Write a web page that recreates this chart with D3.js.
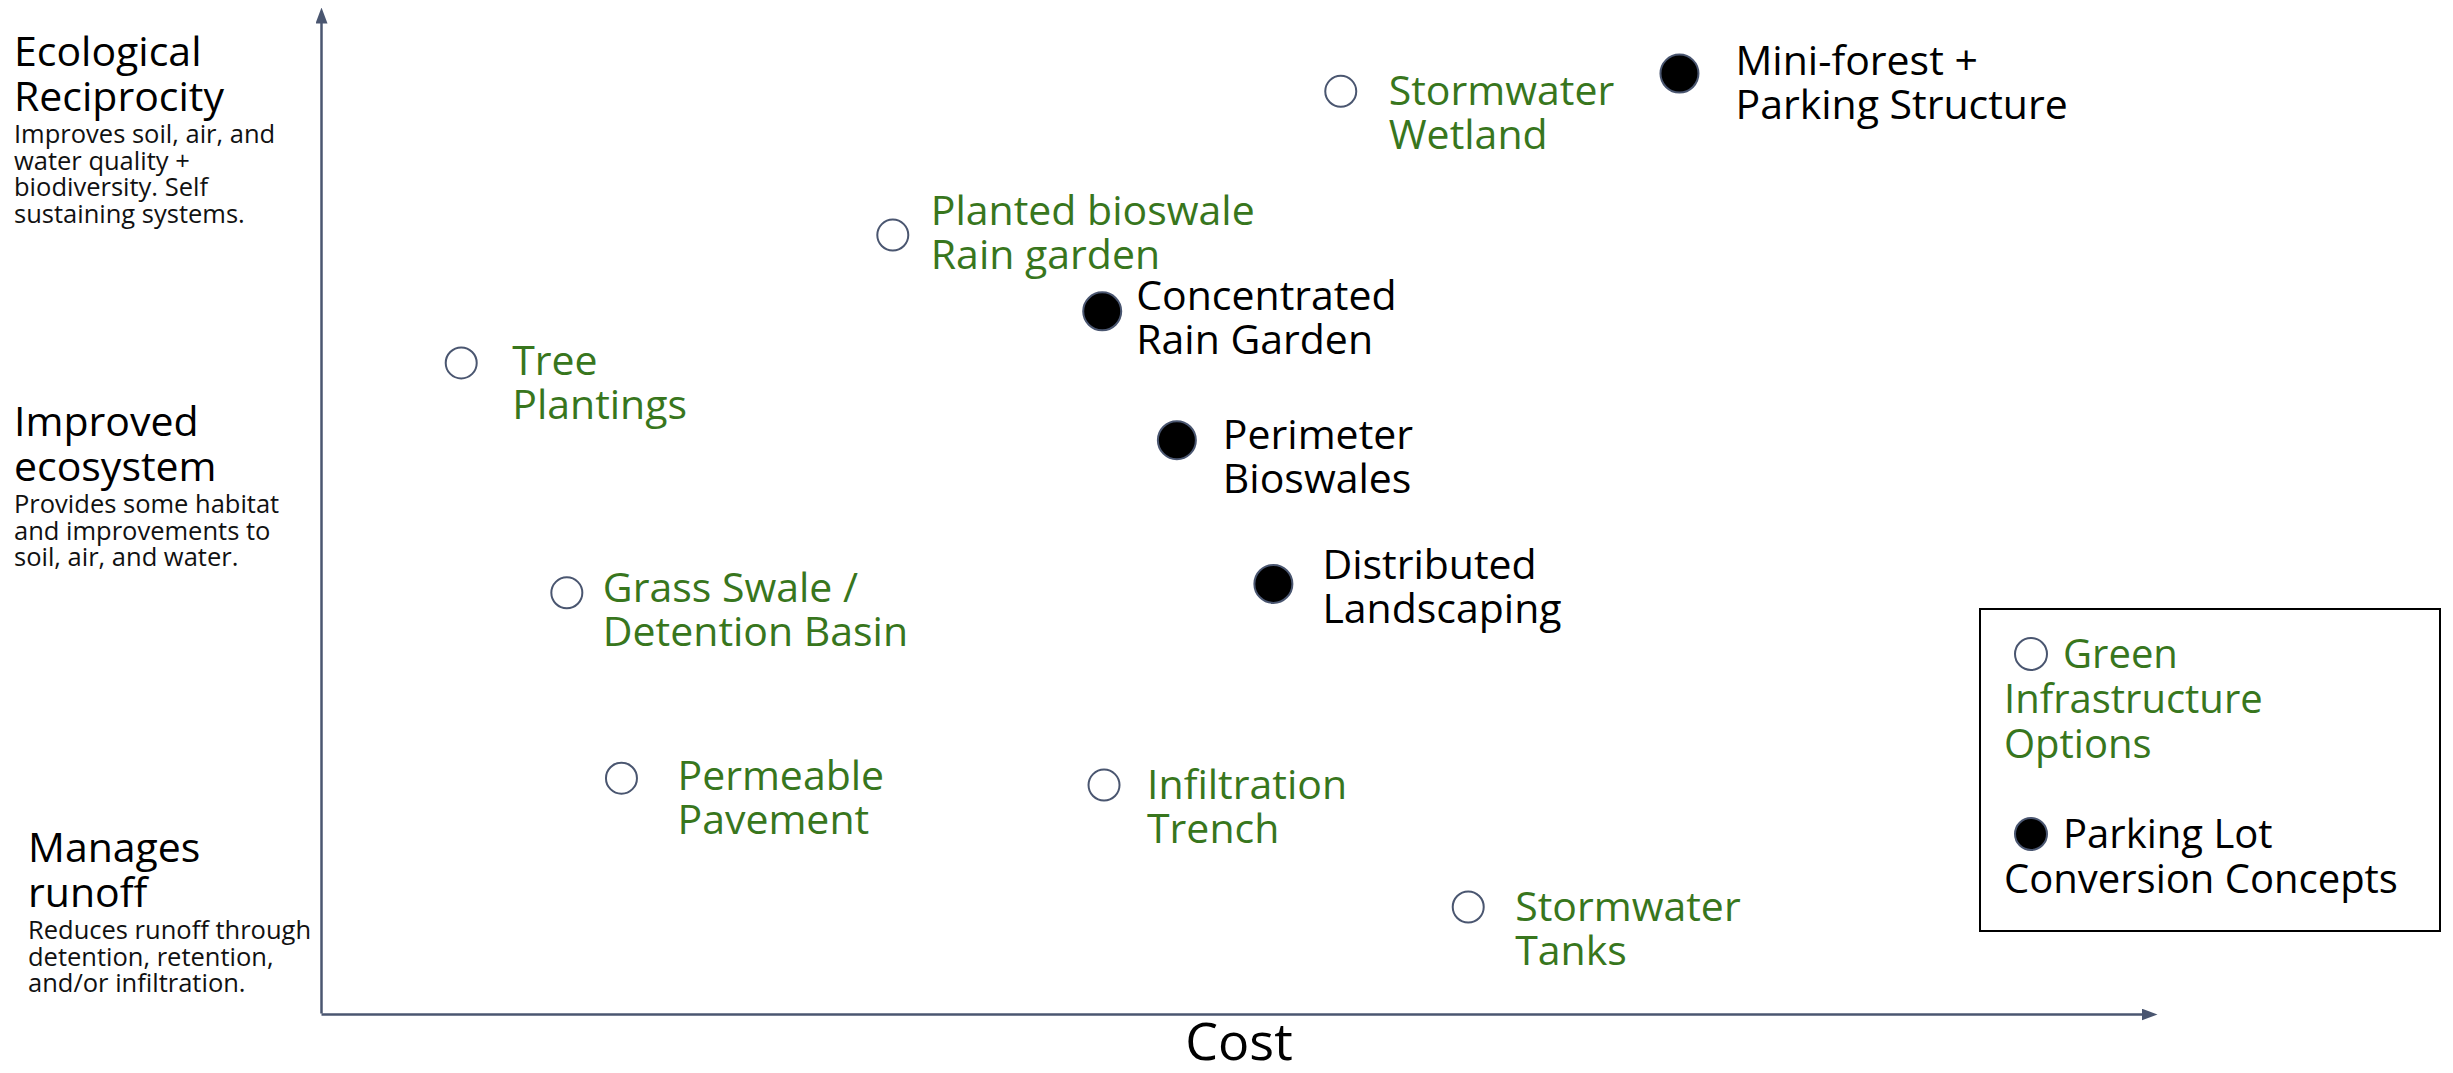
<!DOCTYPE html>
<html>
<head>
<meta charset="utf-8">
<script src="https://cdn.jsdelivr.net/npm/d3@7"></script>
<style>
  html, body { margin: 0; padding: 0; background: #fff; }
  svg { display: block; }
  text { font-family: "Open Sans", "Noto Sans", sans-serif; }
</style>
</head>
<body>
<svg id="chart" width="2453" height="1073"></svg>
<script>
// Options, each placed by relative cost (x) and ecological benefit (y), on a 0-100 scale.
const optionNames = [
  ["Stormwater", "Wetland"],
  ["Mini-forest +", "Parking Structure"],
  ["Planted bioswale", "Rain garden"],
  ["Concentrated", "Rain Garden"],
  ["Tree", "Plantings"],
  ["Perimeter", "Bioswales"],
  ["Grass Swale /", "Detention Basin"],
  ["Distributed", "Landscaping"],
  ["Permeable", "Pavement"],
  ["Infiltration", "Trench"],
  ["Stormwater", "Tanks"]
];
const costValues    = [56.0, 74.6, 31.4, 42.9, 7.7, 47.0, 13.5, 52.3, 16.5, 43.0, 63.0];
const benefitValues = [93.0, 94.8, 78.5, 70.8, 65.6, 57.8, 42.4, 43.3, 23.7, 23.0, 10.7];
// "green" = Green Infrastructure Options, "lot" = Parking Lot Conversion Concepts
const optionGroups  = ["green", "lot", "green", "lot", "green", "lot", "green", "lot", "green", "green", "green"];

// Benefit tiers along the vertical axis
const tierTitles = [["Ecological", "Reciprocity"], ["Improved", "ecosystem"], ["Manages", "runoff"]];
const tierNotes = [
  ["Improves soil, air, and", "water quality +", "biodiversity. Self", "sustaining systems."],
  ["Provides some habitat", "and improvements to", "soil, air, and water."],
  ["Reduces runoff through", "detention, retention,", "and/or infiltration."]
];
const xAxisTitle = "Cost";
const legendGroups = ["green", "lot"];
const legendLabels = [["Green", "Infrastructure", "Options"], ["Parking Lot", "Conversion Concepts"]];

const svg = d3.select("#chart");
const AXIS = "#4a5670";
const GREEN = "#38761d";

const x = d3.scaleLinear().domain([0, 100]).range([321, 2142]);
const y = d3.scaleLinear().domain([0, 100]).range([1013, 22]);

// arrowhead for both axes
svg.append("defs").append("marker")
  .attr("id", "arrow")
  .attr("viewBox", "0 0 16 12")
  .attr("refX", 1).attr("refY", 6)
  .attr("markerWidth", 16).attr("markerHeight", 12)
  .attr("markerUnits", "userSpaceOnUse")
  .attr("orient", "auto")
  .append("path").attr("d", "M0,0L16,6L0,12Z").attr("fill", AXIS);

const yAxis = svg.append("g").attr("transform", `translate(${x(0)},0)`)
  .call(d3.axisLeft(y).tickValues([]).tickSizeOuter(0));
const xAxis = svg.append("g").attr("transform", `translate(0,${y(0) + 1})`)
  .call(d3.axisBottom(x).tickValues([]).tickSizeOuter(0));
[yAxis, xAxis].forEach(g => g.select(".domain")
  .attr("stroke", AXIS).attr("stroke-width", 2.5).attr("marker-end", "url(#arrow)"));

svg.append("text")
  .attr("x", 1239).attr("y", 1060)
  .attr("text-anchor", "middle")
  .attr("font-size", 52).attr("fill", "#000")
  .text(xAxisTitle);

// tier labels on the left
const tierTop = [66, 436, 862];
const tierLeft = [14, 14, 28];
tierTitles.forEach((lines, i) => {
  const t = svg.append("text").attr("font-size", 41).attr("fill", "#000");
  lines.forEach((s, j) => t.append("tspan").attr("x", tierLeft[i]).attr("y", tierTop[i] + j * 45).text(s));
  const n = svg.append("text").attr("font-size", 25.5).attr("fill", "#111");
  tierNotes[i].forEach((s, j) => n.append("tspan").attr("x", tierLeft[i]).attr("y", tierTop[i] + 77 + j * 26.6).text(s));
});

// marker styles
const markStyle = {
  green: { r: 15.5, fill: "#fff" },
  lot:   { r: 19, fill: "#000" }
};

const points = optionNames.map((name, i) => ({
  name, cost: costValues[i], benefit: benefitValues[i], group: optionGroups[i]
}));

// where each label sits relative to its marker: [dx, dy of first baseline]
const labelOffset = [[48, 14], [56, 1], [38, -10], [34, -1], [51, 12], [46, 9],
                     [36, 9], [49, -5], [56, 12], [43, 14], [47, 14]];

const pt = svg.append("g").selectAll("g").data(points).join("g")
  .attr("transform", d => `translate(${x(d.cost)},${y(d.benefit)})`);

pt.append("circle")
  .attr("r", d => markStyle[d.group].r)
  .attr("fill", d => markStyle[d.group].fill)
  .attr("stroke", AXIS).attr("stroke-width", 2);

pt.append("text")
  .attr("font-size", 41)
  .attr("fill", d => d.group === "green" ? GREEN : "#000")
  .each(function (d, i) {
    const [dx, dy] = labelOffset[i];
    d.name.forEach((s, j) => d3.select(this).append("tspan")
      .attr("x", dx).attr("y", dy + j * 44).text(s));
  });

// legend
const lg = svg.append("g");
lg.append("rect").attr("x", 1980).attr("y", 609).attr("width", 460).attr("height", 322)
  .attr("fill", "none").attr("stroke", "#000").attr("stroke-width", 2);
const legendTop = [668, 848];
legendGroups.forEach((g, i) => {
  lg.append("circle").attr("cx", 2031).attr("cy", legendTop[i] - 14)
    .attr("r", 16).attr("fill", markStyle[g].fill)
    .attr("stroke", AXIS).attr("stroke-width", 2);
  const t = lg.append("text").attr("font-size", 40).attr("fill", g === "green" ? GREEN : "#000");
  legendLabels[i].forEach((s, j) => t.append("tspan")
    .attr("x", j === 0 ? 2063 : 2004).attr("y", legendTop[i] + j * 45).text(s));
});
</script>
</body>
</html>
